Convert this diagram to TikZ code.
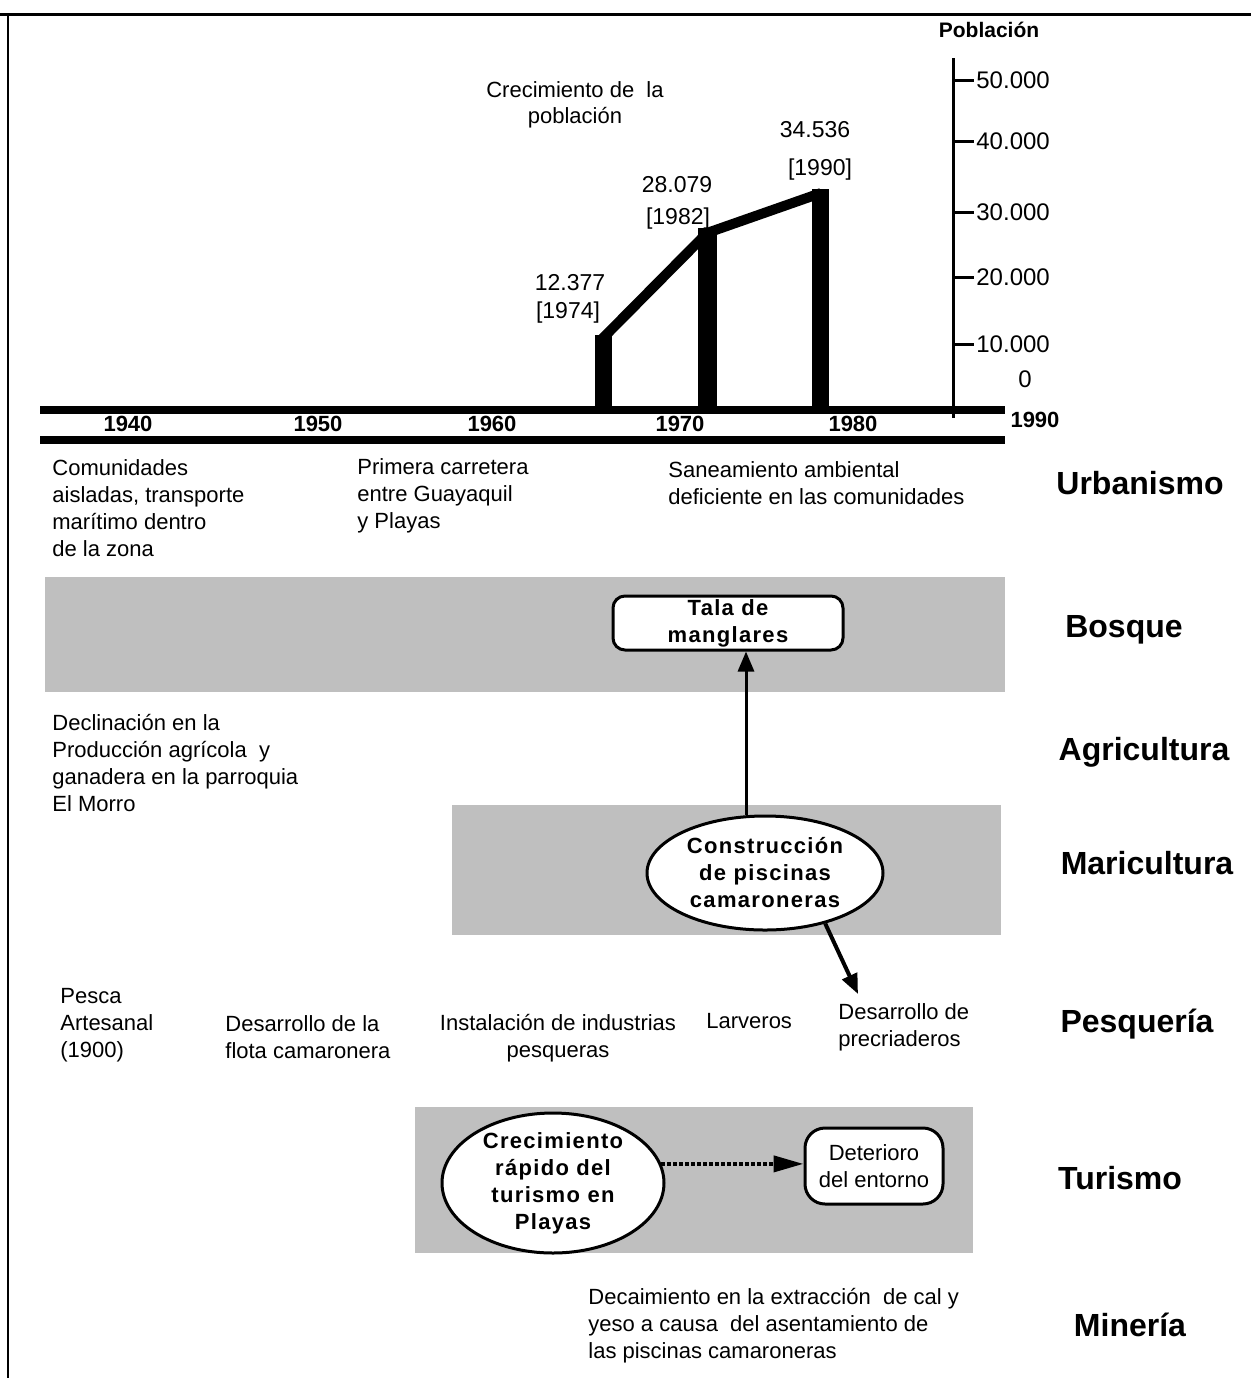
\documentclass[tikz,border=0pt]{standalone}
\usepackage{fontspec}
\setmainfont{Liberation Sans}
\newfontfamily\spaced[LetterSpace=6]{Liberation Sans}
\usetikzlibrary{arrows.meta,shapes.geometric}

\begin{document}
\begin{tikzpicture}[x=0.5pt,y=-0.5pt]
        \tikzstyle{txt}=[anchor=north west,align=left,inner sep=0pt,font=\fontsize{11}{13.5}\selectfont]
        \tikzstyle{num}=[inner sep=0pt,font=\fontsize{11.5}{14}\selectfont]
        \tikzstyle{year}=[inner sep=0pt,font=\fontsize{11}{13}\selectfont\bfseries]
        \tikzstyle{sector}=[inner sep=0pt,font=\fontsize{16}{18}\selectfont\bfseries]
        \tikzstyle{band}=[fill=black!25]
        \tikzstyle{box}=[rectangle,draw,line width=1.5pt,fill=white,align=center,inner sep=0pt]
        \tikzstyle{oval}=[ellipse,draw,line width=1.5pt,fill=white,align=center,inner sep=0pt,font=\fontsize{11}{13.5}\selectfont\spaced\bfseries]
        \tikzstyle{link}=[line width=1.5pt,-{Triangle[length=10pt,width=8pt]}]
        \useasboundingbox (0,0) rectangle (1251,1378);

        \draw[line width=1.5pt] (0,14) -- (1251,14);
        \draw[line width=1pt] (8,14) -- (8,1378);

        \begin{scope}
         \draw[line width=4pt] (40,410) -- (1005,410);
         \draw[line width=4pt] (40,440) -- (1005,440);
         \draw[line width=1.5pt] (953,58) -- (953,418);
         \foreach \y/\val in {80/50.000,141/40.000,212/30.000,277/20.000,344/10.000} {
           \draw[line width=1.5pt] (953,\y) -- (974,\y);
           \node[num,anchor=west,font=\fontsize{12}{14}\selectfont] (t\y) at (976,\y) {\val};
         }
         \node[num,font=\fontsize{12}{14}\selectfont] (t0) at (1025,379) {0};
         \node[year,font=\fontsize{10.5}{12}\selectfont\bfseries] (pob) at (989,30) {Población};
         \foreach \x/\yr in {128/1940,318/1950,492/1960,680/1970,853/1980} {
           \node[year] (yr\yr) at (\x,424) {\yr};
         }
         \node[year] (yr1990) at (1035,420) {1990};

         \fill (595,335) rectangle (612,410);
         \fill (698,228) rectangle (717,406);
         \fill (812,189) rectangle (829,406);
         \coordinate (p74) at (601,340);
         \coordinate (p82) at (707,233);
         \coordinate (p90) at (821,193);
         \draw[line width=5pt] (p74) -- (p82) -- (p90);

         \node[num,align=center,font=\fontsize{11}{13}\selectfont] (crec) at (575,105) {Crecimiento de~ la\\población};
         \node[num] (v74) at (570,283) {12.377};
         \node[num] (y74) at (568,313) {[1974]};
         \node[num] (v82) at (677,185) {28.079};
         \node[num] (y82) at (678,219) {[1982]};
         \node[num] (v90) at (815,130) {34.536};
         \node[num] (y90) at (820,170) {[1990]};
        \end{scope}

        \node[txt] (urb1) at (52,459) {Comunidades\\aisladas, transporte\\marítimo dentro\\de la zona};
        \node[txt] (urb2) at (357,458) {Primera carretera\\entre Guayaquil\\y Playas};
        \node[txt] (urb3) at (668,461) {Saneamiento ambiental\\deficiente en las comunidades};
        \node[sector] (sUrb) at (1140,483) {Urbanismo};

        \fill[band] (45,577) rectangle (1005,692);
        \node[box,rounded corners=6pt,minimum width=115pt,minimum height=27pt,font=\fontsize{11}{13.5}\selectfont\spaced\bfseries] (tala) at (728,623) {Tala de\\manglares};
        \node[sector] (sBos) at (1124,630) {Bosque};

        \node[txt] (agr) at (52,714) {Declinación en la\\Producción agrícola~ y\\ganadera en la parroquia\\El Morro};
        \node[sector] (sAgr) at (1144,752) {Agricultura};

        \fill[band] (452,805) rectangle (1001,935);
        \node[oval,minimum width=118pt,minimum height=57pt] (cons) at (765,873) {Construcción\\de piscinas\\camaroneras};
        \node[sector] (sMar) at (1147,863) {Maricultura};
        \path (tala.south) ++(18,0) coordinate (talaIn);
        \draw[link] (cons.north -| talaIn) -- (talaIn);

        \node[txt] (pes1) at (60,988) {Pesca\\Artesanal\\(1900)};
        \node[txt] (pes2) at (225,1015) {Desarrollo de la\\flota camaronera};
        \node[txt,anchor=north,align=center] (pes3) at (558,1014) {Instalación de industrias\\pesqueras};
        \node[txt] (pes4) at (706,1013) {Larveros};
        \node[txt] (pes5) at (838,1003) {Desarrollo de\\precriaderos};
        \node[sector] (sPes) at (1137,1024) {Pesquería};
        \coordinate (precTip) at (858,994);
        \draw[link,line width=2pt] (cons.-40) -- (precTip);

        \fill[band] (415,1107) rectangle (973,1253);
        \node[oval,inner ysep=-1pt,minimum width=111pt,minimum height=70pt] (tur) at (553,1183) {Crecimiento\\rápido del\\turismo en\\Playas};
        \node[box,rounded corners=10pt,minimum width=69pt,minimum height=38pt,font=\fontsize{11}{13.5}\selectfont] (det) at (874,1166) {Deterioro\\del entorno};
        \node[sector] (sTur) at (1120,1178) {Turismo};
        \coordinate (detIn) at (det.west |- tur.10);
        \draw[link,line width=2pt,densely dotted,-{Triangle[length=15pt,width=8pt]}] (tur.10) -- (detIn);

        \node[txt] (min) at (588,1288) {Decaimiento en la extracción~ de cal y\\yeso a causa~ del asentamiento de\\las piscinas camaroneras};
        \node[sector] (sMin) at (1130,1325) {Minería};
\end{tikzpicture}
\end{document}
